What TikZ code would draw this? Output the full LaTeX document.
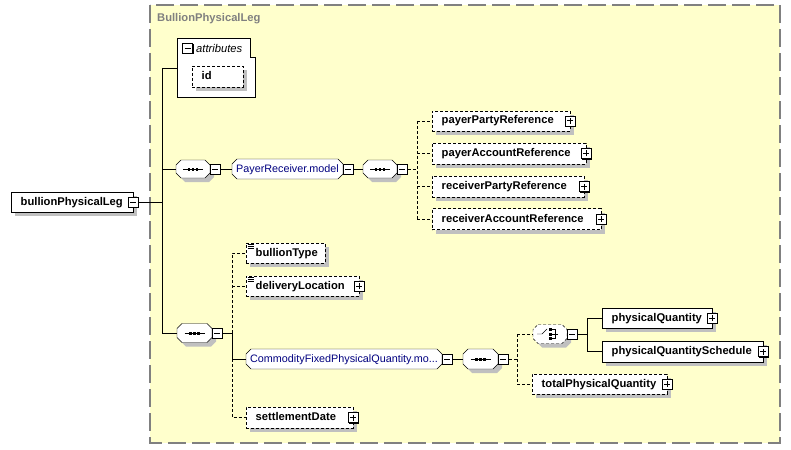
\documentclass[tikz,border=0pt]{standalone}
\usepackage{fontspec}
\setmainfont{Liberation Sans}
\usetikzlibrary{shadows}

\definecolor{panel}{RGB}{255,255,204}
\definecolor{shade}{RGB}{192,192,192}
\definecolor{frame}{RGB}{128,128,128}
\definecolor{modeltext}{RGB}{0,0,128}

\pgfdeclarelayer{back}
\pgfdeclarelayer{boxes}
\pgfsetlayers{back,boxes,main}

% outline with cut corners round a node
\newcommand\chamferbox[3][]{%
  \path[#1] ([xshift=#3]#2.north west) -- ([xshift=-#3]#2.north east)
    -- ([yshift=-#3]#2.north east) -- ([yshift=#3]#2.south east)
    -- ([xshift=-#3]#2.south east) -- ([xshift=#3]#2.south west)
    -- ([yshift=#3]#2.south west) -- ([yshift=-#3]#2.north west) -- cycle;}

\begin{document}
\begin{tikzpicture}[x=1pt,y=-1pt,line width=1pt,
  elem/.style={draw, fill=white, anchor=west, inner xsep=9.5pt, inner ysep=0pt,
    minimum height=20pt, align=left, text height=8pt, text depth=2pt,
    font=\fontsize{11.2}{13}\selectfont\bfseries,
    drop shadow={shadow xshift=4pt, shadow yshift=-4pt, fill=shade, opacity=1}},
  opt elem/.style={elem, dash pattern=on 3pt off 2pt},
  box width/.style={text width=\the\dimexpr#1pt-19pt\relax},
  seq/.style={anchor=west, inner sep=0pt, outer sep=0pt,
    minimum width=34pt, minimum height=18pt},
  model/.style={anchor=west, inner sep=0pt, outer sep=0pt,
    minimum height=20pt, text=modeltext, text height=8pt, text depth=2pt,
    font=\fontsize{10.8}{13}\selectfont},
  toggle/.style={draw, fill=white, minimum size=10pt, inner sep=0pt, line width=0.8pt,
    drop shadow={shadow xshift=1pt, shadow yshift=-1pt, fill=black, opacity=1}},
  minus box/.style={toggle, path picture={\draw[line width=1pt]
    ([xshift=2pt]path picture bounding box.west) -- ([xshift=-2pt]path picture bounding box.east);}},
  plus box/.style={toggle, path picture={\draw[line width=1pt]
    ([xshift=2pt]path picture bounding box.west) -- ([xshift=-2pt]path picture bounding box.east)
    ([yshift=2pt]path picture bounding box.south) -- ([yshift=-2pt]path picture bounding box.north);}},
  opt line/.style={dash pattern=on 3pt off 2pt},
  ]
  \useasboundingbox (0,0) rectangle (791,449);

  % complex type panel
  \begin{pgfonlayer}{back}
    \draw[frame, line width=1.3pt, dash pattern=on 18pt off 6pt, fill=panel] (150,5) rectangle (780,443);
  \end{pgfonlayer}
  \node[anchor=west, inner sep=0pt, text=frame, font=\fontsize{11.2}{13}\selectfont\bfseries] (title) at (157,19) {BullionPhysicalLeg};

  % root element
  \node[elem, box width=122] (leg) at (11,202) {bullionPhysicalLeg};
  \node[minus box] (legT) at (leg.east) {};

  % attributes
  \draw[fill=white] (177,38) -- (250,38) -- (250,57) -- (255,57) -- (255,97) -- (177,97) -- cycle;
  \coordinate (attr) at (177,68);
  \node[minus box] (attrT) at (187.5,48.5) {};
  \node[anchor=west, inner sep=0pt, font=\fontsize{11.2}{13}\selectfont\itshape] (attrL) at (196,48) {attributes};
  \node[opt elem, box width=51, minimum height=21pt] (id) at (192,76.5) {id};

  % payer / receiver
  \node[seq] (s1) at (176,169) {};
  \node[minus box, anchor=west] (s1T) at (s1.east) {};
  \node[model, minimum width=111pt] (pr) at (232,169) {PayerReceiver.model};
  \node[minus box, anchor=west] (prT) at (pr.east) {};
  \node[seq] (s3) at (363,169) {};
  \node[minus box, anchor=west] (s3T) at (s3.east) {};
  \node[opt elem, box width=138] (ppr) at (432,121) {payerPartyReference};
  \node[opt elem, box width=154, minimum height=21pt] (par) at (432,153.5) {payerAccountReference};
  \node[opt elem, box width=152, minimum height=21pt] (rpr) at (432,186.5) {receiverPartyReference};
  \node[opt elem, box width=169, minimum height=21pt] (rar) at (432,219) {receiverAccountReference};
  \foreach \n in {ppr,par,rpr,rar}
    \node[plus box] (\n T) at (\n.east) {};

  % delivery
  \node[seq, minimum width=35pt, minimum height=19pt] (s2) at (177,333) {};
  \node[minus box, anchor=west] (s2T) at (s2.east) {};
  \node[opt elem, box width=79] (bt) at (246,253) {bullionType};
  \node[opt elem, box width=113] (dl) at (246,286) {deliveryLocation};
  \node[plus box] (dlT) at (dl.east) {};
  \node[model, minimum width=196pt] (cfq) at (246,359) {CommodityFixedPhysicalQuantity.mo...};
  \node[minus box, anchor=west] (cfqT) at (cfq.east) {};
  \node[opt elem, box width=107, minimum height=21pt] (sd) at (246,417.5) {settlementDate};
  \node[plus box] (sdT) at (sd.east) {};
  \foreach \n in {bt,dl}
    \foreach \k in {0,2,4}
      \draw[line width=0.7pt] ([shift={(1.5,1.5+\k)}]\n.north west) -- ++(6,0);

  % quantity
  \node[seq, minimum width=35pt, minimum height=20pt] (s4) at (463,359) {};
  \node[minus box, anchor=west] (s4T) at (s4.east) {};
  \node[seq, minimum height=19pt] (ch) at (533,334) {};
  \node[minus box, anchor=west] (chT) at (ch.east) {};
  \node[elem, box width=110] (pq) at (602,318) {physicalQuantity};
  \node[elem, box width=161, minimum height=21pt] (pqs) at (602,351.5) {physicalQuantitySchedule};
  \node[opt elem, box width=135] (tpq) at (532,384) {totalPhysicalQuantity};
  \foreach \n in {pq,pqs,tpq}
    \node[plus box] (\n T) at (\n.east) {};

  % compositor outlines
  \begin{pgfonlayer}{boxes}
    \foreach \s in {s1,s2,s3,s4,ch}
      \chamferbox[fill=shade, transform canvas={shift={(4pt,-4pt)}}]{\s}{5pt};
    \foreach \s in {s1,s2,s3,s4,pr,cfq}
      \chamferbox[draw, fill=white]{\s}{5pt};
    \chamferbox[draw, fill=white, opt line]{ch}{5pt};
  \end{pgfonlayer}

  % compositor symbols
  \foreach \s in {s1,s2,s3,s4} {
    \draw[line width=0.8pt] ([xshift=-10pt]\s.center) -- ([xshift=10pt]\s.center);
    \foreach \d in {-4,0,4}
      \fill ([xshift=\d pt]\s.center) +(-1.3,-1.5) rectangle +(1.3,1.5);
  }
  \draw (ch.center) +(-13,0) -- +(-8,0) -- +(-3,-5);
  \foreach \d in {-4.5,0,4.5}
    \fill (ch.center) +(-1.5,\d-1.5) rectangle +(1.5,\d+1.5);
  \draw (ch.center) +(1.5,-4.5) -| +(5,4.5) -- +(1.5,4.5);
  \draw (ch.center) +(1.5,0) -- +(8,0);

  % connectors
  \coordinate (t1) at (162,68);
  \coordinate (t2) at (162,333);
  \draw (legT.east) -- (t1 |- legT.east);
  \draw (t1) -- (t2);
  \draw (t1) -- (attr);
  \draw (t1 |- s1.west) -- (s1.west);
  \draw (t2) -- (s2.west);
  \draw (s1T.east) -- (pr.west);
  \draw (prT.east) -- (s3.west);
  \coordinate (c1) at (417,169);
  \draw[opt line] (s3T.east) -- (c1);
  \draw[opt line] (c1 |- ppr.west) -- (c1 |- rar.west);
  \foreach \n in {ppr,par,rpr,rar}
    \draw[opt line] (c1 |- \n.west) -- (\n.west);
  \coordinate (c2) at (232,333);
  \draw (s2T.east) -- (c2) -- (c2 |- cfq.west) -- (cfq.west);
  \draw[opt line] (c2) -- (c2 |- bt.west) -- (bt.west);
  \draw[opt line] (c2 |- dl.west) -- (dl.west);
  \draw[opt line] (c2 |- cfq.west) -- (c2 |- sd.west) -- (sd.west);
  \draw (cfqT.east) -- (s4.west);
  \coordinate (c4) at (517,359);
  \draw[opt line] (s4T.east) -- (c4);
  \draw[opt line] (c4 |- ch.west) -- (c4 |- tpq.west);
  \draw[opt line] (c4 |- ch.west) -- (ch.west);
  \draw[opt line] (c4 |- tpq.west) -- (tpq.west);
  \coordinate (c5) at (587,334);
  \draw (chT.east) -- (c5);
  \draw (c5 |- pq.west) -- (c5 |- pqs.west);
  \draw (c5 |- pq.west) -- (pq.west);
  \draw (c5 |- pqs.west) -- (pqs.west);
\end{tikzpicture}
\end{document}
